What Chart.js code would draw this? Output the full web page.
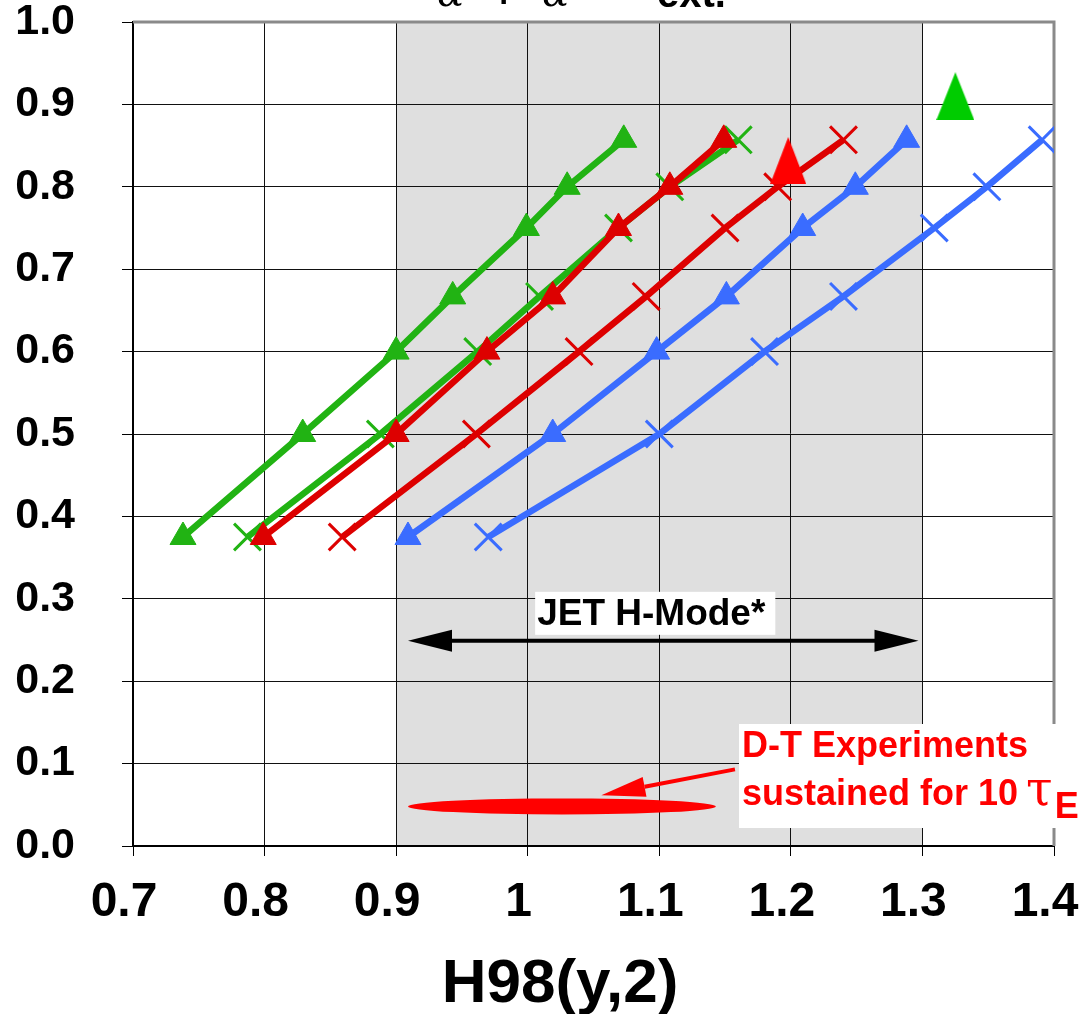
<!DOCTYPE html>
<html>
<head>
<meta charset="utf-8">
<script src="https://cdn.jsdelivr.net/npm/chart.js@4/dist/chart.umd.min.js"></script>
<style>
html, body { margin: 0; padding: 0; background: #fff; }
#wrap { width: 1080px; height: 1014px; }
</style>
</head>
<body>
<div id="wrap"><canvas id="chart" width="1080" height="1014"></canvas></div>
<script>
// values
const yLevels = [0.375, 0.5, 0.6, 0.667, 0.75, 0.8, 0.857];
const greenTriX = [0.738, 0.829, 0.900, 0.943, 0.999, 1.030, 1.073];
const greenCrossX = [0.787, 0.888, 0.962, 1.009, 1.069, 1.108, 1.160];
const redTriX = [0.799, 0.900, 0.969, 1.019, 1.069, 1.108, 1.149];
const redCrossX = [0.859, 0.961, 1.039, 1.090, 1.150, 1.190, 1.240];
const blueTriX = [0.909, 1.019, 1.098, 1.151, 1.209, 1.249, 1.288];
const blueCrossX = [0.970, 1.100, 1.180, 1.240, 1.309, 1.349, 1.391];
const bigRedPoint = [1.198, 0.832];
const bigGreenPoint = [1.325, 0.910];

const xTickValues = [0.7, 0.8, 0.9, 1.0, 1.1, 1.2, 1.3, 1.4];
const xTickLabels = ["0.7", "0.8", "0.9", "1", "1.1", "1.2", "1.3", "1.4"];
const yTickValues = [0, 0.1, 0.2, 0.3, 0.4, 0.5, 0.6, 0.7, 0.8, 0.9, 1.0];
const yTickLabels = ["0.0", "0.1", "0.2", "0.3", "0.4", "0.5", "0.6", "0.7", "0.8", "0.9", "1.0"];

// annotations (data units)
const shadeRange = [0.9, 1.3];
const jetRange = [0.909, 1.297];
const jetY = 0.249;
const jetLabel = "JET H-Mode*";
const dtEllipse = [0.909, 1.143, 0.048];
const dtArrow = [1.1575, 0.093, 1.056, 0.0617];
const dtLines = ["D-T Experiments", "sustained for 10 "];

const FONT = "'Liberation Sans', Arial, sans-serif";
const GREEN = "#21b313";
const RED = "#dd0000";
const BLUE = "#3a6cff";

function pts(xs) {
  return xs.map((x, i) => ({x: x, y: yLevels[i]}));
}

function triangleImage(w, h, color) {
  const c = document.createElement("canvas");
  c.width = w; c.height = h;
  const g = c.getContext("2d");
  g.fillStyle = color;
  g.beginPath();
  g.moveTo(w / 2, 0);
  g.lineTo(w, h);
  g.lineTo(0, h);
  g.closePath();
  g.fill();
  return c;
}

function lineSet(data, color, marker, order) {
  const tri = marker === "triangle";
  return {
    data: data,
    showLine: true,
    borderColor: color,
    borderWidth: 6.5,
    tension: 0,
    pointStyle: tri ? "triangle" : "crossRot",
    pointRadius: tri ? 15 : 19,
    pointBackgroundColor: color,
    pointBorderColor: color,
    pointBorderWidth: tri ? 1 : 3,
    order: order
  };
}

const decor = {
  id: "decor",
  beforeDraw(chart) {
    const {ctx, chartArea: a, scales: {x}} = chart;
    const x0 = x.getPixelForValue(shadeRange[0]);
    const x1 = x.getPixelForValue(shadeRange[1]);
    ctx.save();
    ctx.fillStyle = "#dfdfdf";
    ctx.fillRect(x0, a.top, x1 - x0, a.bottom - a.top);
    ctx.restore();
  },
  beforeDatasetsDraw(chart) {
    const {ctx, chartArea: a} = chart;
    ctx.save();
    ctx.strokeStyle = "#8a8a8a";
    ctx.lineWidth = 3;
    ctx.beginPath();
    ctx.moveTo(a.left, a.top);
    ctx.lineTo(a.right, a.top);
    ctx.lineTo(a.right, a.bottom);
    ctx.stroke();
    ctx.restore();
  },
  afterDraw(chart) {
    const {ctx, scales: {x, y}} = chart;
    ctx.save();

    // JET H-Mode double arrow
    const ax0 = x.getPixelForValue(jetRange[0]);
    const ax1 = x.getPixelForValue(jetRange[1]);
    const ay = y.getPixelForValue(jetY);
    ctx.fillStyle = "#000";
    ctx.strokeStyle = "#000";
    ctx.lineWidth = 4;
    ctx.beginPath();
    ctx.moveTo(ax0 + 40, ay);
    ctx.lineTo(ax1 - 40, ay);
    ctx.stroke();
    ctx.beginPath();
    ctx.moveTo(ax0, ay); ctx.lineTo(ax0 + 44, ay - 11); ctx.lineTo(ax0 + 44, ay + 11); ctx.closePath();
    ctx.fill();
    ctx.beginPath();
    ctx.moveTo(ax1, ay); ctx.lineTo(ax1 - 44, ay - 11); ctx.lineTo(ax1 - 44, ay + 11); ctx.closePath();
    ctx.fill();

    ctx.font = "bold 37px " + FONT;
    ctx.textAlign = "center";
    ctx.textBaseline = "alphabetic";
    const jw = ctx.measureText(jetLabel).width;
    const jcx = (ax0 + ax1) / 2 - 12;
    ctx.fillStyle = "#fff";
    ctx.fillRect(jcx - jw / 2 - 2, ay - 49, jw + 12, 43);
    ctx.fillStyle = "#000";
    ctx.fillText(jetLabel, jcx, ay - 16);

    // D-T ellipse and arrow
    const ex0 = x.getPixelForValue(dtEllipse[0]);
    const ex1 = x.getPixelForValue(dtEllipse[1]);
    const ey = y.getPixelForValue(dtEllipse[2]);
    ctx.fillStyle = "#ff0000";
    ctx.beginPath();
    ctx.ellipse((ex0 + ex1) / 2, ey, (ex1 - ex0) / 2, 8, 0, 0, Math.PI * 2);
    ctx.fill();

    const sx = x.getPixelForValue(dtArrow[0]), sy = y.getPixelForValue(dtArrow[1]);
    const tx = x.getPixelForValue(dtArrow[2]), ty = y.getPixelForValue(dtArrow[3]);
    const ang = Math.atan2(sy - ty, sx - tx);
    const hl = 44, hw = 10;
    const bx = tx + Math.cos(ang) * hl, by = ty + Math.sin(ang) * hl;
    ctx.strokeStyle = "#ff0000";
    ctx.lineWidth = 4;
    ctx.beginPath();
    ctx.moveTo(sx, sy);
    ctx.lineTo(bx, by);
    ctx.stroke();
    ctx.beginPath();
    ctx.moveTo(tx, ty);
    ctx.lineTo(bx - Math.sin(ang) * hw, by + Math.cos(ang) * hw);
    ctx.lineTo(bx + Math.sin(ang) * hw, by - Math.cos(ang) * hw);
    ctx.closePath();
    ctx.fill();

    // D-T text box
    ctx.fillStyle = "#fff";
    ctx.fillRect(739, 724, 341, 104);
    ctx.fillStyle = "#ff0000";
    ctx.textAlign = "left";
    ctx.font = "bold 36px " + FONT;
    ctx.fillText(dtLines[0], 742, 757);
    ctx.fillText(dtLines[1], 742, 805);
    let tw = ctx.measureText(dtLines[1]).width;
    ctx.font = "48px 'DejaVu Serif', serif";
    ctx.fillText("\u03C4", 740 + tw, 805);
    const tauW = ctx.measureText("\u03C4").width;
    ctx.font = "bold 36px " + FONT;
    ctx.fillText("E", 740 + tw + tauW + 2, 818);

    // x axis title
    ctx.fillStyle = "#000";
    ctx.textAlign = "center";
    ctx.font = "bold 62px " + FONT;
    ctx.fillText("H98(y,2)", 560, 1002);

    // bottom of a title line cut off at the top
    ctx.font = "italic 40px 'DejaVu Serif', serif";
    ctx.textAlign = "left";
    ctx.fillText("\u03B1", 437, 6);
    ctx.fillText("\u03B1", 542, 6);
    ctx.font = "bold 40px " + FONT;
    ctx.fillText("+", 492, 7);
    ctx.fillText("ext.", 657, 7);
    ctx.restore();
  }
};

new Chart(document.getElementById("chart"), {
  type: "scatter",
  data: {
    datasets: [
      {data: [{x: bigRedPoint[0], y: bigRedPoint[1]}], pointStyle: triangleImage(36, 47, "#ff0000"), order: 0},
      {data: [{x: bigGreenPoint[0], y: bigGreenPoint[1]}], pointStyle: triangleImage(38, 48, "#00cc00"), order: 0},
      lineSet(pts(redTriX), RED, "triangle", 1),
      lineSet(pts(redCrossX), RED, "cross", 1),
      lineSet(pts(greenTriX), GREEN, "triangle", 2),
      lineSet(pts(greenCrossX), GREEN, "cross", 2),
      lineSet(pts(blueTriX), BLUE, "triangle", 2),
      lineSet(pts(blueCrossX), BLUE, "cross", 2)
    ]
  },
  options: {
    responsive: false,
    animation: false,
    devicePixelRatio: 1,
    layout: {padding: {left: 0, right: 26, top: 18, bottom: 0}},
    plugins: {legend: {display: false}, tooltip: {enabled: false}},
    scales: {
      x: {
        type: "linear",
        min: 0.7,
        max: 1.4,
        afterBuildTicks: s => { s.ticks = xTickValues.map(v => ({value: v})); },
        afterFit: s => { s.height = 168; s.paddingLeft = 0; s.paddingRight = 0; },
        ticks: {
          callback: (v, i) => xTickLabels[i],
          font: {family: FONT, size: 48, weight: "bold"},
          color: "#000",
          padding: 18,
          labelOffset: -9,
          maxRotation: 0,
          autoSkip: false
        },
        grid: {color: "#111", lineWidth: 1, tickLength: 10, tickColor: "#000"},
        border: {color: "#000", width: 2}
      },
      y: {
        type: "linear",
        min: 0,
        max: 1,
        afterBuildTicks: s => { s.ticks = yTickValues.map(v => ({value: v})); },
        afterFit: s => { s.width = 133; s.paddingTop = 0; s.paddingBottom = 0; },
        ticks: {
          callback: (v, i) => yTickLabels[i],
          font: {family: FONT, size: 43, weight: "bold"},
          color: "#000",
          padding: 47,
          autoSkip: false
        },
        grid: {color: "#111", lineWidth: 1, tickLength: 11, tickColor: "#000"},
        border: {color: "#000", width: 2}
      }
    }
  },
  plugins: [decor]
});
</script>
</body>
</html>
